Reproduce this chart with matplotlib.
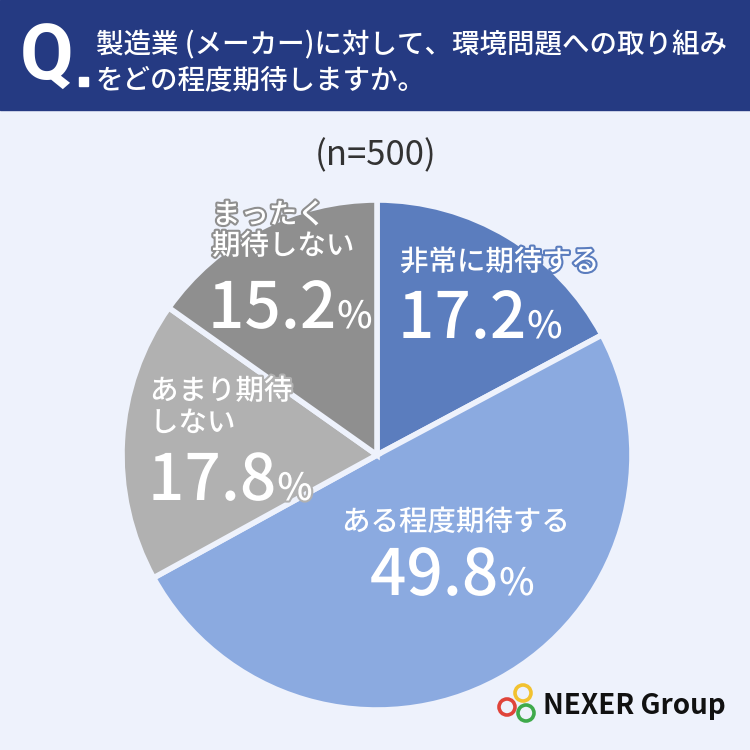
import matplotlib
matplotlib.use("Agg")
import matplotlib.pyplot as plt
import matplotlib.patheffects as pe
from matplotlib.patches import Rectangle, Circle

plt.rcParams['font.family'] = ['Noto Sans CJK JP', 'DejaVu Sans']

# ---- data ----
labels = ['非常に期待する', 'ある程度期待する', 'あまり期待\nしない', 'まったく\n期待しない']
values = [17.2, 49.8, 17.8, 15.2]
colors = ['#5B7DBE', '#8BAAE0', '#B1B1B1', '#8F8F8F']
question = ['製造業 (メーカー)に対して、環境問題への取り組み', 'をどの程度期待しますか。']
n_text = '(n=500)'

W = H = 750
BG = '#EEF2FC'
NAVY = '#253A82'

fig = plt.figure(figsize=(7.5, 7.5), dpi=100)
fig.patch.set_facecolor(BG)
ax = fig.add_axes([0, 0, 1, 1])

def Y(y):
    # pixel row from top -> data y
    return H - y

# header band
ax.add_patch(Rectangle((0, Y(110)), W, 110, color=NAVY, zorder=1))
ax.text(20, Y(59), 'Q', color='white', fontsize=56, fontweight='bold', family='Roboto',
        ha='left', va='center', zorder=2)
ax.add_patch(Rectangle((79, Y(86)), 9, 9, color='white', zorder=2))
ax.text(96, Y(45), question[0], color='white', fontsize=19.8, fontweight='medium',
        ha='left', va='center', zorder=2)
ax.text(96, Y(80), question[1], color='white', fontsize=19.8, fontweight='medium',
        ha='left', va='center', zorder=2)

ax.text(376, Y(156), n_text, color='#333333', fontsize=25, ha='center', va='center')

# pie
cx, cy, r = 377, 455, 255
wedges, _ = ax.pie(values, colors=colors, startangle=90, counterclock=False,
                   center=(cx, Y(cy)), radius=r, frame=True,
                   wedgeprops=dict(edgecolor=BG, linewidth=4))
ax.set_xlim(0, W)
ax.set_ylim(0, H)
ax.axis('off')

# label placement: (left x, label line centers, number baseline)
layout = [
    (400, [262], 338),
    (342, [522], 595),
    (150, [391, 423], 500),
    (212, [215, 246], 328),
]
num_x = [398, 370, 148, 208]

renderer = fig.canvas.get_renderer()
for i, (lx, ys, base) in enumerate(layout):
    stroke = [pe.withStroke(linewidth=3, foreground=colors[i])]
    for line, yy in zip(labels[i].split('\n'), ys):
        ax.text(lx, Y(yy), line, color='white', fontsize=20.5, fontweight='medium',
                ha='left', va='center', path_effects=stroke, zorder=5)
    t = ax.text(num_x[i], Y(base), f'{values[i]:.1f}', color='white', fontsize=46,
                fontweight='medium', ha='left', va='baseline',
                path_effects=stroke, zorder=5)
    bb = t.get_window_extent(renderer).transformed(ax.transData.inverted())
    ax.text(bb.x1 + 1, Y(base), '%', color='white', fontsize=27, fontweight='medium',
            ha='left', va='baseline', path_effects=stroke, zorder=5)

# logo
ring_specs = [((523, 693), '#F2C230'), ((507, 707), '#E0443A'), ((526, 713), '#3FAA4B')]
for (px, py), c in ring_specs:
    ax.add_patch(Circle((px, Y(py)), 8, fill=False, edgecolor=c, linewidth=2.6, zorder=6))
ax.text(543, Y(706), 'NEXER Group', color='#111111', fontsize=20, fontweight='bold',
        ha='left', va='center', zorder=6)

fig.savefig('out.png', dpi=100, facecolor=BG)
